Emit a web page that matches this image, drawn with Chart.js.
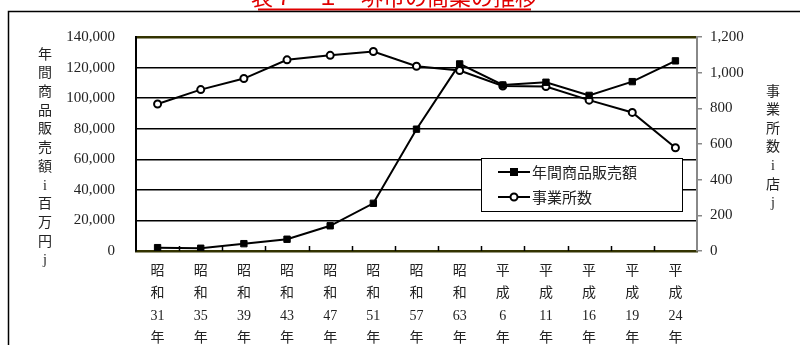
<!DOCTYPE html>
<html>
<head>
<meta charset="utf-8">
<script src="https://cdn.jsdelivr.net/npm/chart.js@4.4.1/dist/chart.umd.min.js"></script>
<style>
  body { margin: 0; background: #fff; }
  #wrap { width: 800px; height: 345px; position: relative; }
</style>
</head>
<body>
<div id="wrap"><canvas id="chart"></canvas></div>
<script>
// categories (era year labels, stacked vertically)
var years = [
    ["昭", "和", "31", "年"],
    ["昭", "和", "35", "年"],
    ["昭", "和", "39", "年"],
    ["昭", "和", "43", "年"],
    ["昭", "和", "47", "年"],
    ["昭", "和", "51", "年"],
    ["昭", "和", "57", "年"],
    ["昭", "和", "63", "年"],
    ["平", "成", "6", "年"],
    ["平", "成", "11", "年"],
    ["平", "成", "16", "年"],
    ["平", "成", "19", "年"],
    ["平", "成", "24", "年"]
];

// 年間商品販売額 (百万円)
var sales = [2200, 1800, 4800, 7700, 16500, 31200, 79700, 122400, 108600, 110400, 101800, 110800, 124400];

// 事業所数 (店)
var shops = [824, 905, 967, 1072, 1097, 1119, 1036, 1012, 925, 922, 846, 777, 579];

var seriesNames = ["年間商品販売額", "事業所数"];
var leftTicks = [0, 20000, 40000, 60000, 80000, 100000, 120000, 140000];
var rightTicks = [0, 200, 400, 600, 800, 1000, 1200];

var chartTitle = "表７－１　堺市の商業の推移";
var leftTitle = "年間商品販売額i百万円j";
var rightTitle = "事業所数i店j";

var serif = '"Liberation Serif", "Noto Sans CJK JP", serif';
var textColor = "#222";

function fmt(v) {
    return v.toLocaleString("en-US");
}

// page frame, red title and the stacked axis titles
var decorations = {
    id: "decorations",
    afterDraw: function (chart) {
        var ctx = chart.ctx;
        ctx.save();

        ctx.fillStyle = "#e00000";
        ctx.font = '22px "Noto Sans CJK JP", sans-serif';
        ctx.textAlign = "center";
        ctx.textBaseline = "alphabetic";
        ctx.fillText(chartTitle, 394, 5);
        ctx.strokeStyle = "#e00000";
        ctx.lineWidth = 2;
        ctx.beginPath();
        ctx.moveTo(258, 9.5);
        ctx.lineTo(531, 9.5);
        ctx.stroke();

        ctx.strokeStyle = "#000";
        ctx.lineWidth = 1.5;
        ctx.beginPath();
        ctx.moveTo(8.5, 345);
        ctx.lineTo(8.5, 11.5);
        ctx.lineTo(800, 11.5);
        ctx.stroke();

        ctx.fillStyle = textColor;
        ctx.font = "14px " + serif;
        ctx.textBaseline = "middle";
        var chars = Array.from(leftTitle);
        chars.forEach(function (ch, i) {
            ctx.fillText(ch, 45, 55 + i * 18.7);
        });
        chars = Array.from(rightTitle);
        chars.forEach(function (ch, i) {
            ctx.fillText(ch, 773, 92 + i * 18.6);
        });
        ctx.restore();
    }
};

// small category ticks pointing up into the plot
var innerTicks = {
    id: "innerTicks",
    beforeDatasetsDraw: function (chart) {
        var ctx = chart.ctx;
        var x = chart.scales.x;
        var w = (x.right - x.left) / years.length;
        ctx.save();
        ctx.strokeStyle = "#000";
        ctx.lineWidth = 1.5;
        ctx.beginPath();
        for (var i = 1; i < years.length; i++) {
            var px = Math.round(x.left + i * w) + 0.5;
            ctx.moveTo(px, x.top);
            ctx.lineTo(px, x.top - 5);
        }
        ctx.stroke();
        ctx.restore();
    }
};

// legend box inside the plot
var boxLegend = {
    id: "boxLegend",
    afterDraw: function (chart) {
        var ctx = chart.ctx;
        ctx.save();
        ctx.fillStyle = "#fff";
        ctx.fillRect(481, 158, 201, 53);
        ctx.strokeStyle = "#000";
        ctx.lineWidth = 1;
        ctx.strokeRect(481.5, 158.5, 201, 53);

        chart.data.datasets.forEach(function (ds, i) {
            var y = 172 + i * 25;
            ctx.strokeStyle = "#000";
            ctx.lineWidth = 2;
            ctx.beginPath();
            ctx.moveTo(498, y);
            ctx.lineTo(530, y);
            ctx.stroke();
            if (ds.pointStyle === "rect") {
                ctx.fillStyle = "#000";
                ctx.fillRect(510, y - 4, 8, 8);
            } else {
                ctx.fillStyle = "#fff";
                ctx.beginPath();
                ctx.arc(514, y, 3.5, 0, Math.PI * 2);
                ctx.fill();
                ctx.stroke();
            }
            ctx.fillStyle = textColor;
            ctx.font = '15px "Noto Sans CJK JP", sans-serif';
            ctx.textAlign = "left";
            ctx.textBaseline = "middle";
            ctx.fillText(ds.label, 532, y);
        });
        ctx.restore();
    }
};

new Chart(document.getElementById("chart"), {
    type: "line",
    data: {
        labels: years,
        datasets: [
            {
                label: seriesNames[0],
                data: sales,
                yAxisID: "y",
                borderColor: "#000",
                borderWidth: 2,
                pointStyle: "rect",
                pointRadius: 4.5,
                pointBackgroundColor: "#000",
                pointBorderColor: "#000",
                pointBorderWidth: 1
            },
            {
                label: seriesNames[1],
                data: shops,
                yAxisID: "y1",
                borderColor: "#000",
                borderWidth: 2,
                pointStyle: "circle",
                pointRadius: 3.5,
                pointBackgroundColor: "#fff",
                pointBorderColor: "#000",
                pointBorderWidth: 2
            }
        ]
    },
    options: {
        responsive: true,
        maintainAspectRatio: false,
        animation: false,
        layout: { padding: { top: 37, left: 0, right: 0, bottom: 0 } },
        plugins: {
            legend: { display: false },
            title: { display: false },
            tooltip: { enabled: false }
        },
        scales: {
            x: {
                offset: true,
                grid: { display: false },
                border: { display: true, color: "#333300", width: 2.5 },
                ticks: {
                    color: textColor,
                    font: { family: serif, size: 14, lineHeight: 1.6 },
                    padding: 1,
                    maxRotation: 0,
                    autoSkip: false
                },
                afterFit: function (s) { s.height = 94; }
            },
            y: {
                position: "left",
                min: 0,
                max: 140000,
                afterBuildTicks: function (s) {
                    s.ticks = leftTicks.map(function (v) { return { value: v }; });
                },
                ticks: {
                    color: textColor,
                    font: { family: serif, size: 15 },
                    padding: 21,
                    callback: function (v) { return fmt(v); }
                },
                grid: {
                    drawTicks: false,
                    color: function (c) { return c.tick && c.tick.value === 140000 ? "#333300" : "#000"; },
                    lineWidth: function (c) { return c.tick && c.tick.value === 140000 ? 2.5 : 1.5; }
                },
                border: { color: "#000", width: 2 },
                afterFit: function (s) { s.width = 136; }
            },
            y1: {
                position: "right",
                min: 0,
                max: 1200,
                afterBuildTicks: function (s) {
                    s.ticks = rightTicks.map(function (v) { return { value: v }; });
                },
                ticks: {
                    color: textColor,
                    font: { family: serif, size: 15 },
                    padding: 8,
                    callback: function (v) { return fmt(v); }
                },
                grid: { drawOnChartArea: false, tickLength: 5, color: "#888", lineWidth: 1.5 },
                border: { color: "#888", width: 2 },
                afterFit: function (s) { s.width = 103; }
            }
        }
    },
    plugins: [innerTicks, boxLegend, decorations]
});
</script>
</body>
</html>
